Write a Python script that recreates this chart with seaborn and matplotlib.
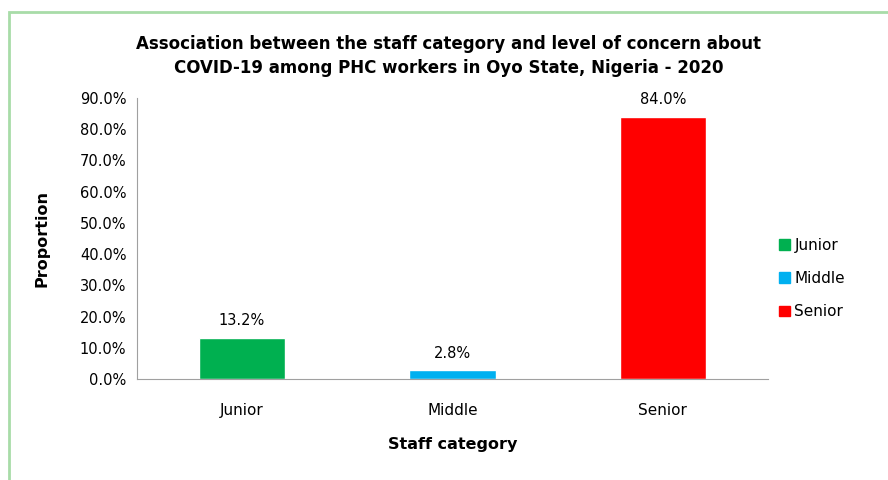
import matplotlib
matplotlib.use("Agg")
import matplotlib.pyplot as plt
import matplotlib.patches as mpatches
from matplotlib.ticker import FuncFormatter
import seaborn as sns
import pandas as pd

# data
categories = ["Junior", "Middle", "Senior"]
proportion = [13.2, 2.8, 84.0]
bar_colors = ["#00b050", "#00b0f0", "#ff0000"]

df = pd.DataFrame({"category": categories, "proportion": proportion})

sns.set_style("white")
plt.rcParams['font.family'] = ['DejaVu Sans']

fig = plt.figure(figsize=(8.88, 4.8), dpi=100)
ax = fig.add_axes([0.154, 0.2104, 0.711, 0.5856])

sns.barplot(data=df, x="category", y="proportion", hue="category",
            palette=bar_colors, width=0.41, dodge=False, legend=False,
            saturation=1, ax=ax)

for i, v in enumerate(proportion):
    ax.text(i, v + 3, f"{v:.1f}%", ha="center", va="bottom", fontsize=10.5, color="black")

ax.set_ylim(0, 90)
ax.set_yticks(range(0, 91, 10))
ax.yaxis.set_major_formatter(FuncFormatter(lambda y, p: f"{y:.1f}%"))
ax.set_xlim(-0.5, 2.5)
for s in ["top", "right"]:
    ax.spines[s].set_visible(False)
for s in ["left", "bottom"]:
    ax.spines[s].set_color("#a0a0a0")
ax.tick_params(axis="y", length=4, color="#a0a0a0", labelsize=10.5, labelcolor="black")
ax.tick_params(axis="x", length=0, labelsize=11, labelcolor="black", pad=17)

ax.set_xlabel("Staff category", fontsize=11.5, fontweight="bold", labelpad=14, color="black")
ax.set_ylabel("Proportion", fontsize=11.5, fontweight="bold", labelpad=22, color="black")

fig.text(0.505, 0.883, "Association between the staff category and level of concern about\n"
         "COVID-19 among PHC workers in Oyo State, Nigeria - 2020",
         ha="center", va="center", fontsize=12, fontweight="bold", linespacing=1.45,
         color="black")

handles = [mpatches.Patch(color=c, label=l) for c, l in zip(bar_colors, categories)]
leg = fig.legend(handles=handles, loc="center left", bbox_to_anchor=(0.862, 0.42),
                 frameon=False, fontsize=11, handlelength=0.7, handleheight=0.7,
                 handletextpad=0.3, labelspacing=1.2)
for t in leg.get_texts():
    t.set_color("black")

# light green frame of the original chart area
frame = mpatches.Rectangle((9 / 888, -0.1), 1.2, 1 - 12 / 480 + 0.1,
                           transform=fig.transFigure, fill=False,
                           edgecolor="#a8dca8", linewidth=2)
fig.patches.append(frame)

fig.savefig("out.png", dpi=100)
